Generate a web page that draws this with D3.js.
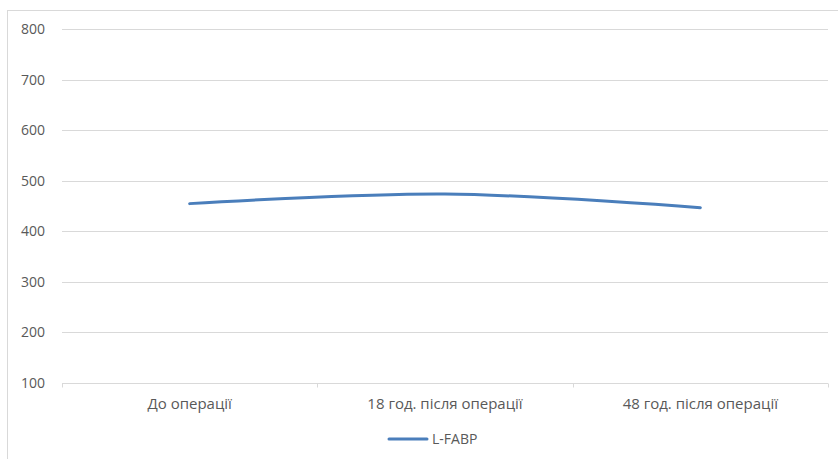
<!DOCTYPE html>
<html>
<head>
<meta charset="utf-8">
<script src="https://cdn.jsdelivr.net/npm/d3@7/dist/d3.min.js"></script>
<style>
  html, body { margin: 0; padding: 0; background: #fff; }
  svg { display: block; }
  text { font-family: "Open Sans", "Liberation Sans", sans-serif; fill: #595959; }
</style>
</head>
<body>
<svg id="chart" width="838" height="459"></svg>
<script>
// L-FABP level at three time points
const categories = ["До операції", "18 год. після операції", "48 год. після операції"];
const seriesName = "L-FABP";
const values = [455, 474, 447];
const yTicks = [100, 200, 300, 400, 500, 600, 700, 800];

const svg = d3.select("#chart");
const fontSize = 14;
const catFontSize = 15;

// outer chart frame
svg.append("rect")
  .attr("x", 7.5).attr("y", 10.5)
  .attr("width", 840).attr("height", 460)
  .attr("fill", "#fff").attr("stroke", "#d9d9d9").attr("stroke-width", 1);

const plot = { left: 62, right: 828, top: 29.3, bottom: 383 };

const x = d3.scaleBand()
  .domain(categories)
  .range([plot.left, plot.right])
  .paddingInner(0).paddingOuter(0);

const y = d3.scaleLinear()
  .domain([100, 800])
  .range([plot.bottom, plot.top]);

// horizontal gridlines
svg.append("g")
  .selectAll("line")
  .data(yTicks.filter(d => d !== 100))
  .join("line")
  .attr("x1", plot.left).attr("x2", plot.right)
  .attr("y1", d => Math.round(y(d)) + 0.5)
  .attr("y2", d => Math.round(y(d)) + 0.5)
  .attr("stroke", "#d9d9d9").attr("stroke-width", 1);

// y axis labels
const yAxis = d3.axisLeft(y).tickValues(yTicks).tickSize(0).tickPadding(0);
const gy = svg.append("g").attr("transform", `translate(${plot.left - 17},0)`).call(yAxis);
gy.select(".domain").remove();
gy.selectAll("text")
  .attr("font-size", fontSize)
  .attr("font-family", "'Open Sans', 'Liberation Sans', sans-serif")
  .attr("fill", "#595959");

// x axis with tick marks between categories
const bottomY = Math.round(y(100)) + 0.5;
svg.append("line")
  .attr("x1", plot.left).attr("x2", plot.right)
  .attr("y1", bottomY).attr("y2", bottomY)
  .attr("stroke", "#d9d9d9").attr("stroke-width", 1);
const boundaries = categories.map(c => x(c)).concat([x(categories[categories.length - 1]) + x.bandwidth()]);
svg.append("g")
  .selectAll("line")
  .data(boundaries)
  .join("line")
  .attr("x1", d => Math.round(d) + 0.5).attr("x2", d => Math.round(d) + 0.5)
  .attr("y1", bottomY).attr("y2", bottomY + 4)
  .attr("stroke", "#d9d9d9").attr("stroke-width", 1);

svg.append("g")
  .selectAll("text")
  .data(categories)
  .join("text")
  .attr("x", d => x(d) + x.bandwidth() / 2)
  .attr("y", 409)
  .attr("text-anchor", "middle")
  .attr("font-size", catFontSize)
  .text(d => d);

// series line
const line = d3.line()
  .x((d, i) => x(categories[i]) + x.bandwidth() / 2)
  .y(d => y(d))
  .curve(d3.curveCatmullRom.alpha(0.5));

svg.append("path")
  .datum(values)
  .attr("d", line)
  .attr("fill", "none")
  .attr("stroke", "#4a7ebb")
  .attr("stroke-width", 3)
  .attr("stroke-linecap", "round");

// legend
const lg = svg.append("g").attr("transform", "translate(389,439)");
lg.append("line")
  .attr("x1", 0).attr("x2", 38).attr("y1", 0).attr("y2", 0)
  .attr("stroke", "#4a7ebb").attr("stroke-width", 3).attr("stroke-linecap", "round");
lg.append("text")
  .attr("x", 43).attr("y", 5)
  .attr("font-size", fontSize)
  .text(seriesName);
</script>
</body>
</html>
